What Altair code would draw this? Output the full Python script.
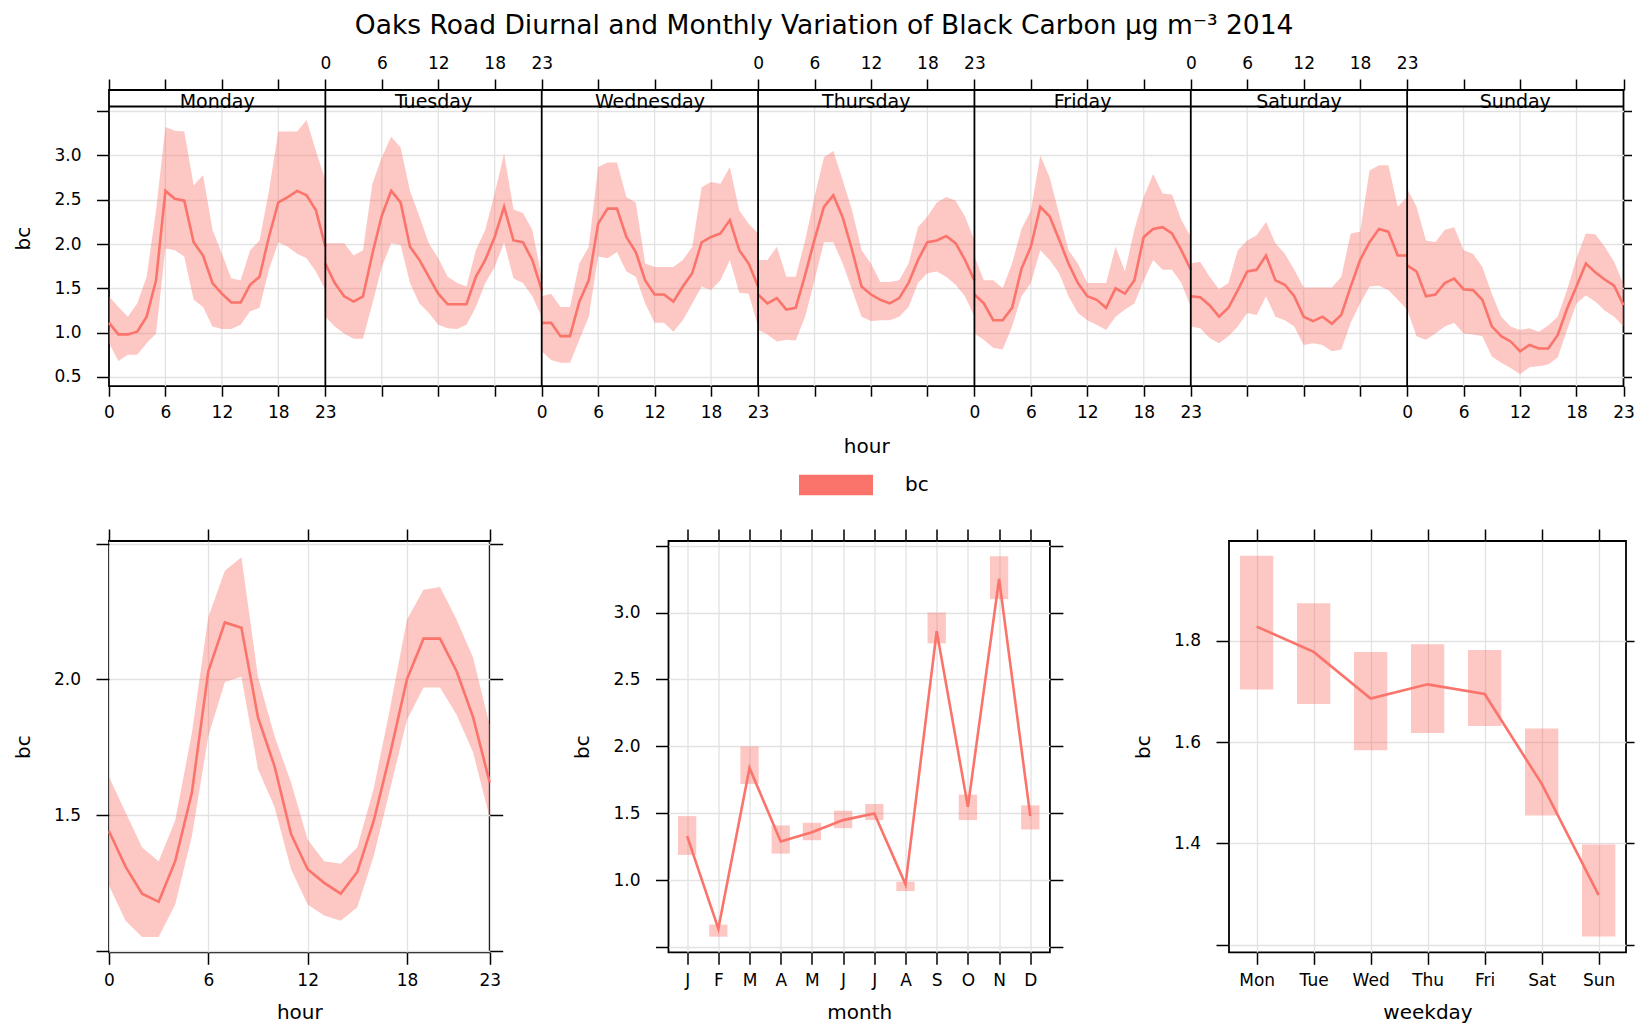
import altair as alt
import pandas as pd

FONT = "DejaVu Sans"
RED = "#FB746B"
GRID = "#E2E2E2"

TITLE = "Oaks Road Diurnal and Monthly Variation of Black Carbon μg m⁻³ 2014"

DAYS = ["Monday", "Tuesday", "Wednesday", "Thursday", "Friday", "Saturday", "Sunday"]
DAY_ABBR = ["Mon", "Tue", "Wed", "Thu", "Fri", "Sat", "Sun"]
MONTHS = ["J", "F", "M", "A", "M", "J", "J", "A", "S", "O", "N", "D"]
HOURS = list(range(24))
HOUR_TICKS = [0, 6, 12, 18, 23]

# hourly mean black carbon by day of week, with 95% interval
MON_MEAN = [1.11, 0.98, 0.98, 1.01, 1.18, 1.59, 2.60, 2.51, 2.49, 2.02, 1.87, 1.56, 1.44, 1.34, 1.34, 1.54, 1.63, 2.08, 2.47, 2.53, 2.60, 2.55, 2.38, 1.97]
MON_LO = [0.88, 0.68, 0.75, 0.75, 0.88, 0.99, 1.95, 1.93, 1.86, 1.37, 1.29, 1.07, 1.04, 1.04, 1.09, 1.24, 1.28, 1.71, 2.02, 1.97, 1.89, 1.84, 1.69, 1.48]
MON_HI = [1.41, 1.29, 1.18, 1.33, 1.63, 2.38, 3.32, 3.28, 3.27, 2.66, 2.78, 2.16, 1.89, 1.61, 1.59, 1.93, 2.04, 2.60, 3.27, 3.27, 3.27, 3.40, 3.05, 2.72]

TUE_MEAN = [1.78, 1.56, 1.41, 1.35, 1.41, 1.89, 2.32, 2.60, 2.47, 1.97, 1.82, 1.63, 1.44, 1.32, 1.32, 1.32, 1.63, 1.82, 2.08, 2.42, 2.04, 2.02, 1.82, 1.48]
TUE_LO = [1.18, 1.07, 0.99, 0.93, 0.93, 1.33, 1.74, 2.01, 1.99, 1.56, 1.33, 1.22, 1.09, 1.05, 1.04, 1.09, 1.29, 1.56, 1.74, 2.02, 1.61, 1.56, 1.41, 1.18]
TUE_HI = [2.01, 2.01, 2.01, 1.87, 1.93, 2.68, 2.98, 3.21, 3.09, 2.60, 2.31, 2.01, 1.84, 1.63, 1.56, 1.52, 1.93, 2.16, 2.57, 3.02, 2.39, 2.35, 2.16, 1.63]

WED_MEAN = [1.11, 1.11, 0.96, 0.96, 1.35, 1.59, 2.23, 2.40, 2.40, 2.08, 1.91, 1.59, 1.43, 1.43, 1.35, 1.52, 1.67, 2.02, 2.08, 2.12, 2.27, 1.93, 1.78, 1.52]
WED_LO = [0.79, 0.69, 0.66, 0.66, 0.92, 1.18, 1.86, 1.84, 1.91, 1.69, 1.63, 1.33, 1.11, 1.11, 1.01, 1.14, 1.33, 1.52, 1.48, 1.59, 1.82, 1.45, 1.44, 1.07]
WED_HI = [1.41, 1.44, 1.29, 1.29, 1.78, 1.97, 2.87, 2.92, 2.92, 2.53, 2.47, 1.78, 1.74, 1.74, 1.74, 1.82, 1.97, 2.64, 2.70, 2.68, 2.87, 2.38, 2.23, 2.12]

THU_MEAN = [1.43, 1.33, 1.39, 1.26, 1.28, 1.65, 2.05, 2.42, 2.55, 2.30, 1.93, 1.52, 1.43, 1.37, 1.33, 1.39, 1.56, 1.82, 2.02, 2.04, 2.09, 2.01, 1.82, 1.59]
THU_LO = [1.03, 0.98, 0.90, 0.92, 0.91, 1.18, 1.59, 2.02, 2.02, 1.78, 1.48, 1.18, 1.13, 1.14, 1.14, 1.18, 1.29, 1.56, 1.67, 1.69, 1.63, 1.54, 1.41, 1.18]
THU_HI = [1.82, 1.82, 1.97, 1.63, 1.63, 2.04, 2.53, 2.98, 3.05, 2.72, 2.38, 1.93, 1.78, 1.57, 1.57, 1.59, 1.78, 2.19, 2.31, 2.47, 2.53, 2.49, 2.31, 2.04]

FRI_MEAN = [1.43, 1.33, 1.14, 1.14, 1.28, 1.72, 1.97, 2.42, 2.31, 2.05, 1.78, 1.56, 1.41, 1.37, 1.28, 1.50, 1.44, 1.59, 2.08, 2.17, 2.19, 2.12, 1.93, 1.71]
FRI_LO = [0.99, 0.92, 0.83, 0.81, 1.07, 1.41, 1.56, 1.93, 1.82, 1.67, 1.41, 1.22, 1.14, 1.09, 1.03, 1.18, 1.26, 1.33, 1.59, 1.82, 1.71, 1.71, 1.56, 1.29]
FRI_HI = [1.86, 1.59, 1.59, 1.50, 1.78, 2.17, 2.38, 3.00, 2.75, 2.34, 1.93, 1.78, 1.56, 1.56, 1.56, 1.97, 1.69, 2.16, 2.53, 2.79, 2.57, 2.56, 2.27, 2.08]

SAT_MEAN = [1.41, 1.40, 1.31, 1.18, 1.28, 1.48, 1.69, 1.71, 1.87, 1.59, 1.54, 1.41, 1.18, 1.13, 1.18, 1.10, 1.20, 1.52, 1.82, 2.02, 2.17, 2.14, 1.87, 1.87]
SAT_LO = [1.07, 1.05, 0.94, 0.88, 0.96, 1.07, 1.22, 1.20, 1.41, 1.18, 1.14, 1.07, 0.86, 0.88, 0.86, 0.79, 0.81, 1.11, 1.33, 1.52, 1.53, 1.48, 1.37, 1.26]
SAT_HI = [1.78, 1.80, 1.63, 1.49, 1.56, 1.93, 2.04, 2.10, 2.25, 2.01, 1.89, 1.71, 1.51, 1.51, 1.51, 1.51, 1.63, 2.12, 2.14, 2.83, 2.89, 2.89, 2.42, 2.53]

SUN_MEAN = [1.76, 1.69, 1.41, 1.43, 1.56, 1.61, 1.49, 1.48, 1.37, 1.07, 0.96, 0.90, 0.79, 0.86, 0.82, 0.82, 0.97, 1.27, 1.52, 1.78, 1.68, 1.60, 1.53, 1.31]
SUN_LO = [1.26, 0.96, 0.92, 0.99, 1.07, 1.11, 0.99, 0.98, 0.96, 0.73, 0.66, 0.60, 0.53, 0.61, 0.62, 0.64, 0.72, 1.03, 1.33, 1.42, 1.35, 1.25, 1.18, 1.07]
SUN_HI = [2.62, 2.42, 2.04, 2.02, 2.16, 2.19, 1.93, 1.89, 1.74, 1.44, 1.18, 1.07, 1.03, 1.05, 1.01, 1.08, 1.18, 1.48, 1.84, 2.12, 2.11, 1.97, 1.80, 1.55]

# all-days diurnal profile
HOUR_MEAN = [1.44, 1.31, 1.21, 1.18, 1.33, 1.58, 2.03, 2.21, 2.19, 1.86, 1.68, 1.43, 1.30, 1.25, 1.21, 1.29, 1.48, 1.73, 2.00, 2.15, 2.15, 2.03, 1.86, 1.62]
HOUR_LO = [1.24, 1.11, 1.05, 1.05, 1.17, 1.42, 1.79, 1.99, 2.01, 1.67, 1.53, 1.30, 1.17, 1.13, 1.11, 1.16, 1.35, 1.60, 1.85, 1.97, 1.97, 1.87, 1.73, 1.49]
HOUR_HI = [1.64, 1.51, 1.38, 1.33, 1.48, 1.80, 2.23, 2.40, 2.45, 2.01, 1.79, 1.62, 1.41, 1.33, 1.32, 1.38, 1.60, 1.90, 2.22, 2.33, 2.34, 2.22, 2.08, 1.83]

# monthly means
MONTH_MEAN = [1.33, 0.64, 1.84, 1.29, 1.36, 1.45, 1.50, 0.97, 2.86, 1.55, 3.25, 1.48]
MONTH_LO = [1.19, 0.58, 1.72, 1.20, 1.30, 1.39, 1.45, 0.92, 2.77, 1.45, 3.10, 1.38]
MONTH_HI = [1.48, 0.67, 2.00, 1.41, 1.43, 1.52, 1.57, 0.99, 3.00, 1.64, 3.42, 1.56]

# weekday means
WEEKDAY_MEAN = [1.828, 1.778, 1.686, 1.714, 1.695, 1.518, 1.298]
WEEKDAY_LO = [1.704, 1.675, 1.584, 1.618, 1.632, 1.455, 1.216]
WEEKDAY_HI = [1.968, 1.874, 1.778, 1.793, 1.782, 1.627, 1.398]

DAY_MEAN = [MON_MEAN, TUE_MEAN, WED_MEAN, THU_MEAN, FRI_MEAN, SAT_MEAN, SUN_MEAN]
DAY_LO = [MON_LO, TUE_LO, WED_LO, THU_LO, FRI_LO, SAT_LO, SUN_LO]
DAY_HI = [MON_HI, TUE_HI, WED_HI, THU_HI, FRI_HI, SAT_HI, SUN_HI]

SPAN = 23  # each weekday panel runs from hour 0 to hour 23
LINE_W = 2.6
FRAME_W = 1.8


def label_expr(pairs):
    vals = ",".join(str(v) for v, _ in pairs)
    labs = ",".join("'%s'" % t for _, t in pairs)
    return "indexof([%s], datum.value) >= 0 ? [%s][indexof([%s], datum.value)] : ''" % (vals, labs, vals)


# ---------------- day-of-week x hour panel ----------------
week_rows = []
for d, day in enumerate(DAYS):
    for h in HOURS:
        week_rows.append({"day": day, "pos": d * SPAN + h, "bc": DAY_MEAN[d][h],
                          "lo": DAY_LO[d][h], "hi": DAY_HI[d][h], "series": "bc"})
week_df = pd.DataFrame(week_rows)

tick_pos = sorted({d * SPAN + h for d in range(7) for h in HOUR_TICKS})
bottom_pairs = [(d * SPAN + h, str(h)) for d in (0, 2, 4, 6) for h in HOUR_TICKS]
top_pairs = [(d * SPAN + h, str(h)) for d in (1, 3, 5) for h in HOUR_TICKS]

grid_df = pd.DataFrame({"gx": [d * SPAN + h for d in range(7) for h in (6, 12, 18)]})
sep_df = pd.DataFrame({"sx": [d * SPAN for d in range(1, 7)]})
strip_df = pd.DataFrame({"day": DAYS, "mid": [d * SPAN + SPAN / 2 for d in range(7)]})

Y_BOTTOM, STRIP_BOTTOM, STRIP_TOP = 0.395, 3.553, 3.739
edge_df = pd.DataFrame({"edge": [STRIP_BOTTOM]})

xs = alt.Scale(domain=[0, 7 * SPAN], nice=False, zero=False)
ys = alt.Scale(domain=[Y_BOTTOM, STRIP_TOP], nice=False, zero=False)
Y_TICKS_TOP = [0.5, 1.0, 1.5, 2.0, 2.5, 3.0, 3.5]

x_bottom = alt.Axis(orient="bottom", values=tick_pos, labelExpr=label_expr(bottom_pairs),
                    grid=False, tickSize=10, labelPadding=8, title="hour", titlePadding=16)
x_top = alt.Axis(orient="top", values=tick_pos, labelExpr=label_expr(top_pairs),
                 grid=False, tickSize=11, labelPadding=6.5, title=None)
y_left = alt.Axis(orient="left", values=Y_TICKS_TOP,
                  labelExpr="datum.value < 3.25 ? format(datum.value, '.1f') : ''",
                  grid=True, tickSize=12.5, labelPadding=15.5, title="bc", titlePadding=20)
y_right = alt.Axis(orient="right", values=Y_TICKS_TOP, labels=False, grid=False,
                   tickSize=8, title=None)

legend = alt.Legend(title=None, orient="none", legendX=690, legendY=358, direction="horizontal",
                    symbolType="M-1,-0.274H1V0.274H-1Z", symbolSize=5476, symbolOpacity=1,
                    symbolStrokeWidth=0, labelFont=FONT, labelFontSize=20, labelColor="black",
                    labelOffset=32, padding=0)

v_grid = alt.Chart(grid_df).mark_rule(color=GRID, strokeWidth=1.3).encode(
    x=alt.X("gx:Q", scale=xs, axis=None),
    y=alt.Y(datum=Y_BOTTOM, scale=ys, axis=None),
    y2=alt.Y2(datum=STRIP_BOTTOM),
)
band = alt.Chart(week_df).mark_area(opacity=0.4).encode(
    x=alt.X("pos:Q", scale=xs, axis=x_bottom),
    y=alt.Y("lo:Q", scale=ys, axis=y_left),
    y2="hi:Q",
    detail="day:N",
    color=alt.Color("series:N", scale=alt.Scale(range=[RED]), legend=legend),
)
line = alt.Chart(week_df).mark_line(color=RED, strokeWidth=LINE_W).encode(
    x=alt.X("pos:Q", scale=xs, axis=None),
    y=alt.Y("bc:Q", scale=ys, axis=None),
    detail="day:N",
)
seps = alt.Chart(sep_df).mark_rule(color="black", strokeWidth=FRAME_W).encode(
    x=alt.X("sx:Q", scale=xs, axis=None)
)
strip_line = alt.Chart(edge_df).mark_rule(color="black", strokeWidth=FRAME_W).encode(
    y=alt.Y("edge:Q", scale=ys, axis=None)
)
strip_text = alt.Chart(strip_df).mark_text(font=FONT, fontSize=19, baseline="alphabetic",
                                           dy=1.5, color="black").encode(
    x=alt.X("mid:Q", scale=xs, axis=x_top),
    y=alt.Y(datum=STRIP_BOTTOM, scale=ys, axis=None),
    text="day:N",
)
right_ticks = alt.Chart(week_df).mark_rule(opacity=0).encode(
    y=alt.Y("bc:Q", scale=ys, axis=y_right)
)

top_panel = alt.layer(v_grid, band, line, strip_text, seps, strip_line, right_ticks).resolve_axis(
    x="independent", y="independent"
).properties(width=1514.5, height=296.2)


# ---------------- small panels ----------------
def small_panel(df, xfield, xscale, xvals, xlabels, xtitle, yscale, yvals, ylabels, width,
                bar_size=None, right_tick=13):
    x_axis = alt.Axis(orient="bottom", values=xvals, labelExpr=xlabels, grid=True,
                      tickSize=12, labelPadding=8, title=xtitle, titlePadding=14.5)
    y_axis = alt.Axis(orient="left", values=yvals, labelExpr=ylabels, grid=True,
                      tickSize=13, labelPadding=15.5, title="bc", titlePadding=20)
    if bar_size is None:
        spread = alt.Chart(df).mark_area(color=RED, opacity=0.4)
    else:
        spread = alt.Chart(df).mark_bar(color=RED, opacity=0.4, size=bar_size)
    spread = spread.encode(
        x=alt.X(f"{xfield}:Q", scale=xscale, axis=x_axis),
        y=alt.Y("lo:Q", scale=yscale, axis=y_axis),
        y2="hi:Q",
    )
    mean = alt.Chart(df).mark_line(color=RED, strokeWidth=LINE_W).encode(
        x=alt.X(f"{xfield}:Q", scale=xscale, axis=None),
        y=alt.Y("bc:Q", scale=yscale, axis=None),
    )
    top_ticks = alt.Chart(df).mark_rule(opacity=0).encode(
        x=alt.X(f"{xfield}:Q", scale=xscale,
                axis=alt.Axis(orient="top", values=xvals, labels=False, grid=False,
                              tickSize=12, title=None))
    )
    right_ticks = alt.Chart(df).mark_rule(opacity=0).encode(
        y=alt.Y("bc:Q", scale=yscale,
                axis=alt.Axis(orient="right", values=yvals, labels=False, grid=False,
                              tickSize=right_tick, title=None))
    )
    return alt.layer(spread, mean, top_ticks, right_ticks).resolve_axis(
        x="independent", y="independent"
    ).properties(width=width, height=411.3)


hour_df = pd.DataFrame({"hour": HOURS, "bc": HOUR_MEAN, "lo": HOUR_LO, "hi": HOUR_HI})
hour_panel = small_panel(
    hour_df, "hour", alt.Scale(domain=[0, 23], nice=False, zero=False), HOUR_TICKS,
    "format(datum.value, 'd')", "hour",
    alt.Scale(domain=[0.994, 2.51], nice=False, zero=False), [1.0, 1.5, 2.0, 2.5],
    "datum.value > 1.2 && datum.value < 2.2 ? format(datum.value, '.1f') : ''", 380.7,
)

month_df = pd.DataFrame({"m": list(range(1, 13)), "bc": MONTH_MEAN, "lo": MONTH_LO, "hi": MONTH_HI})
month_labels = "[" + ",".join("'%s'" % m for m in MONTHS) + "][datum.value - 1]"
month_panel = small_panel(
    month_df, "m", alt.Scale(domain=[0.563, 12.468], nice=False, zero=False), list(range(1, 13)),
    month_labels, "month",
    alt.Scale(domain=[0.463, 3.534], nice=False, zero=False), [0.5, 1.0, 1.5, 2.0, 2.5, 3.0, 3.5],
    "datum.value > 0.7 && datum.value < 3.2 ? format(datum.value, '.1f') : ''", 381.4,
    bar_size=18.3,
)

wd_df = pd.DataFrame({"w": list(range(1, 8)), "bc": WEEKDAY_MEAN, "lo": WEEKDAY_LO, "hi": WEEKDAY_HI})
wd_labels = "[" + ",".join("'%s'" % d for d in DAY_ABBR) + "][datum.value - 1]"
weekday_panel = small_panel(
    wd_df, "w", alt.Scale(domain=[0.603, 7.392], nice=False, zero=False), list(range(1, 8)),
    wd_labels, "weekday",
    alt.Scale(domain=[1.185, 1.997], nice=False, zero=False), [1.2, 1.4, 1.6, 1.8],
    "datum.value > 1.3 ? format(datum.value, '.1f') : ''", 397,
    bar_size=33.3, right_tick=8,
)

bottom_row = alt.hconcat(hour_panel, month_panel, weekday_panel, spacing=178.5, bounds="flush")

chart = alt.vconcat(top_panel, bottom_row, spacing=69).properties(
    title=alt.TitleParams(TITLE, font=FONT, fontSize=26.5, fontWeight="normal", color="black",
                          anchor="middle", offset=13.7),
    padding={"left": 12, "top": 13, "right": 0, "bottom": 2},
    background="white",
).configure_view(
    stroke="black", strokeWidth=FRAME_W
).configure_axis(
    labelFont=FONT, labelFontSize=17, labelColor="black",
    titleFont=FONT, titleFontSize=20, titleFontWeight="normal", titleColor="black",
    tickColor="black", tickWidth=1.5, domain=False,
    gridColor=GRID, gridWidth=1.3, labelFlush=False, labelOverlap=False, labelAngle=0,
)

chart.save("out.html", embed_options={"renderer": "svg", "actions": False})
